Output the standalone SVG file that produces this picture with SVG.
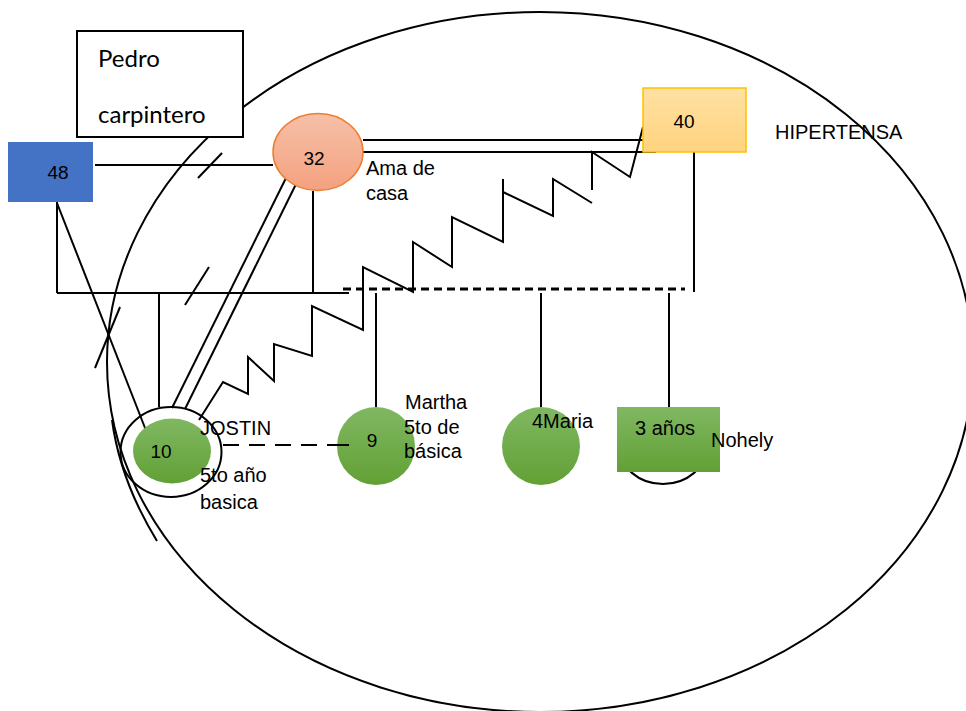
<svg xmlns="http://www.w3.org/2000/svg" width="966" height="711" viewBox="0 0 966 711">
<defs>
<linearGradient id="gGreen" x1="0" y1="0" x2="0" y2="1">
<stop offset="0" stop-color="#80B862"/><stop offset="1" stop-color="#62A035"/>
</linearGradient>
<linearGradient id="gOrange" x1="0" y1="0" x2="0" y2="1">
<stop offset="0" stop-color="#F6C0A8"/><stop offset="1" stop-color="#F4A17F"/>
</linearGradient>
<linearGradient id="gYellow" x1="0" y1="0" x2="0" y2="1">
<stop offset="0" stop-color="#FFE1A3"/><stop offset="1" stop-color="#FFD37E"/>
</linearGradient>
<style>
.ln{stroke:#000;stroke-width:2;fill:none}
.t{font-family:"Liberation Sans",Arial,sans-serif;font-size:20px;fill:#000}
.n{font-family:"Liberation Sans",Arial,sans-serif;font-size:19px;fill:#000}
.c{font-family:Lato,"Open Sans",sans-serif;font-size:24px;fill:#000}
.green{fill:url(#gGreen)}
</style>
</defs>
<rect width="966" height="711" fill="#fff"/>
<g id="household">
<ellipse cx="540" cy="362" rx="433" ry="350" class="ln"/>
<path d="M112 420 C118 465 135 505 157 541" class="ln"/>
</g>
<g id="connectors">
<line x1="95" y1="165" x2="273" y2="165" class="ln"/>
<line x1="198" y1="178" x2="222" y2="153" class="ln"/>
<line x1="57" y1="202" x2="57" y2="293" class="ln"/>
<line x1="57" y1="293" x2="349" y2="293" class="ln"/>
<line x1="313" y1="191" x2="313" y2="293" class="ln"/>
<line x1="57" y1="203" x2="147" y2="433" class="ln"/>
<line x1="185" y1="305" x2="209" y2="267" class="ln"/>
<line x1="95" y1="368" x2="120" y2="307" class="ln"/>
<line x1="159" y1="293" x2="159" y2="407" class="ln"/>
<line x1="286" y1="178" x2="172" y2="408" class="ln"/>
<line x1="299" y1="178" x2="185" y2="409" class="ln"/>
<line x1="363" y1="140" x2="643" y2="140" class="ln"/>
<line x1="363" y1="152" x2="656" y2="152" class="ln"/>
<line x1="694" y1="152" x2="694" y2="292" class="ln"/>
<line x1="343" y1="289" x2="685" y2="289" stroke="#000" stroke-width="3" stroke-dasharray="8 5"/>
<line x1="376" y1="293" x2="376" y2="407" class="ln"/>
<line x1="541" y1="293" x2="541" y2="407" class="ln"/>
<line x1="669" y1="293" x2="669" y2="407" class="ln"/>
<line x1="223" y1="445" x2="349" y2="445" class="ln" stroke-dasharray="16 10"/>
<path d="M199 420 L223 382 L248 394 L248 357 L274 381 L274 344 L312 356 L312 306 L363 330 L363 267 L413 292 L413 242 L452 267 L452 217 L503 242 L503 179 M503 192 L553 216 L553 179 L592 203 M592 190 L592 152 L630 177 L643 127" class="ln" stroke-linejoin="miter"/>
</g>
<g id="pedro">
<rect x="77" y="31" width="166" height="106" fill="#fff" stroke="#000" stroke-width="2"/>
<text class="c" x="98" y="67">Pedro</text>
<text class="c" x="98" y="123">carpintero</text>
</g>
<g id="n48">
<rect x="8" y="142" width="85" height="60" fill="#4472C4"/>
<text class="n" x="58" y="179" text-anchor="middle">48</text>
</g>
<g id="n32">
<ellipse cx="318" cy="152" rx="45" ry="38.5" fill="url(#gOrange)" stroke="#ED7D31" stroke-width="1.5"/>
<text class="n" x="314" y="165" text-anchor="middle">32</text>
<text class="t" x="366" y="175">Ama de</text>
<text class="t" x="366" y="200">casa</text>
</g>
<g id="n40">
<rect x="643" y="88" width="103" height="64" fill="url(#gYellow)" stroke="#FFC000" stroke-width="1.5"/>
<text class="n" x="684" y="128" text-anchor="middle">40</text>
<text class="t" x="775" y="139" font-size="21">HIPERTENSA</text>
</g>
<g id="n10">
<ellipse cx="171" cy="452" rx="50.5" ry="45" class="ln"/>
<ellipse cx="172" cy="451" rx="39" ry="32.5" class="green"/>
<text class="n" x="161" y="458" text-anchor="middle">10</text>
<text class="t" x="200" y="435" font-size="21">JOSTIN</text>
<text class="t" x="200" y="482">5to año</text>
<text class="t" x="200" y="509">basica</text>
</g>
<g id="n9">
<circle cx="376" cy="446" r="39" class="green"/>
<line x1="337" y1="445" x2="349" y2="445" class="ln"/>
<text class="n" x="372" y="447" text-anchor="middle">9</text>
<text class="t" x="405" y="409">Martha</text>
<text class="t" x="404" y="434">5to de</text>
<text class="t" x="404" y="458">básica</text>
</g>
<g id="nMaria">
<circle cx="541" cy="446" r="39" class="green"/>
<text class="t" x="532" y="428">4Maria</text>
</g>
<g id="nNohely">
<ellipse cx="663" cy="446" rx="44" ry="38" fill="#fff" stroke="#000" stroke-width="2"/>
<rect x="617" y="407" width="103" height="65" class="green"/>
<text class="t" x="635" y="435">3 años</text>
<text class="t" x="711" y="447">Nohely</text>
</g>
</svg>
